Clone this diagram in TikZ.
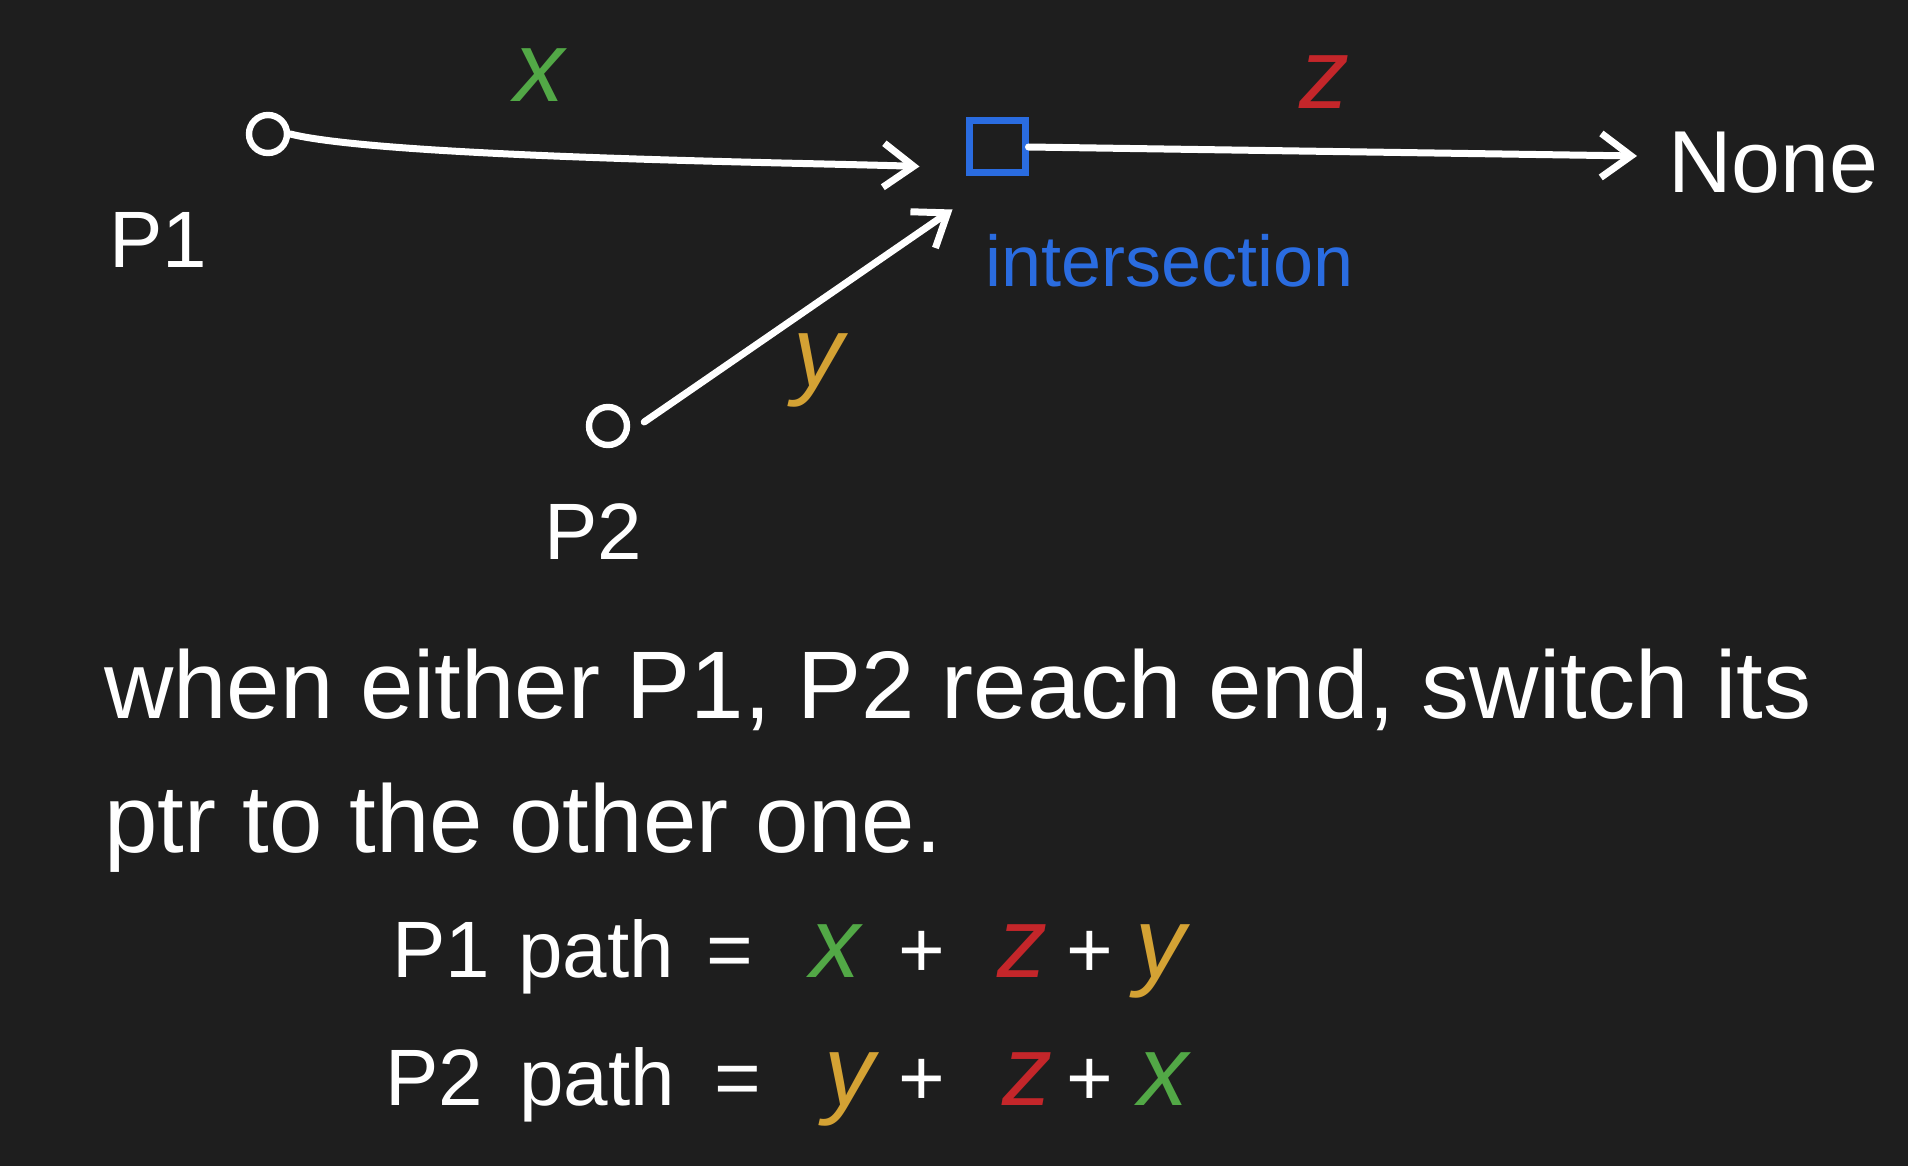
\documentclass[tikz,border=0pt]{standalone}
\usepackage{fontspec}
\setmainfont{Liberation Sans}
\usetikzlibrary{positioning, arrows.meta, calc}
\definecolor{board}{HTML}{1E1E1E}
\definecolor{chalkgreen}{HTML}{52A846}
\definecolor{chalkred}{HTML}{C4262A}
\definecolor{chalkyellow}{HTML}{D4A234}
\definecolor{chalkblue}{HTML}{2A6CE0}

\begin{document}
\begin{tikzpicture}[x=0.5pt, y=-0.5pt,
	ink/.style={draw=white, line width=3.5pt, line cap=round, line join=round},
	ptrarrow/.style={ink, -{Straight Barb[length=15pt, width=22pt]}},
	ptr/.style={draw=white, line width=3.2pt, circle, minimum size=19pt, inner sep=0pt},
	hand/.style={text=white, font=\fontsize{48}{56}\selectfont},
	eqn/.style={text=white, font=\fontsize{40}{48}\selectfont},
	tag/.style={font=\fontsize{50}{56}\selectfont\itshape}]
	\fill[board] (0,0) rectangle (1908,1166);
	\useasboundingbox (0,0) rectangle (1908,1166);
	% ---- the two lists meeting ----
	\node[ptr] (p1) at (268,134) {};
	\node[eqn] (p1lbl) at (158,240) {P1};
	\node[ptr] (p2) at (608,426) {};
	\node[eqn] (p2lbl) at (593,532) {P2};
	\node[draw=chalkblue, line width=3.5pt, minimum width=28pt, minimum height=26pt, inner sep=0pt] (isect) at (997,147) {};
	\node[text=chalkblue, font=\fontsize{36}{42}\selectfont, anchor=west] (isectlbl) at (978,261) {intersection};
	\node[hand, font=\fontsize{44}{50}\selectfont, anchor=west] (none) at (1661,163) {None};
	\coordinate (xend) at ($(isect.south west)+(-46,-10)$);
	\coordinate (yend) at ($(isect.south west)+(-13,33)$);
	\coordinate (zend) at ($(none.west)+(-24,-7)$);
	\draw[ptrarrow] (p1.east) to[out=-14, in=178, looseness=0.4] (xend);
	\draw[ptrarrow] ($(p2.east)+(14,-4)$) -- (yend);
	\draw[ptrarrow] (isect.east) -- (zend);
	\node[tag, text=chalkgreen] (xlbl) at (539,75) {x};
	\node[tag, text=chalkred] (zlbl) at (1324,82) {z};
	\node[tag, text=chalkyellow] (ylbl) at (818,370) {y};
	% ---- the note ----
	\node[hand, anchor=base west] (note1) at (97,718) {when either P1, P2 reach end, switch its};
	\node[hand, anchor=base west] (note2) at (97,852) {ptr to the other one.};
	\foreach \n/\px/\t/\c in {a/441/P1/white, b/596/path/white, c/730/=/white, e/922/+/white, g/1090/+/white}{
		\node[eqn, anchor=base] (pa\n) at (\px,977) {\t};
	}
	\foreach \n/\px/\t/\c in {d/835/x/chalkgreen, f/1022/z/chalkred, h/1160/y/chalkyellow}{
		\node[tag, anchor=base, text=\c] (pa\n) at (\px,977) {\t};
	}
	\foreach \n/\px/\t/\c in {a/434/P2/white, b/597/path/white, c/738/=/white, e/922/+/white, g/1090/+/white}{
		\node[eqn, anchor=base] (pb\n) at (\px,1105) {\t};
	}
	\foreach \n/\px/\t/\c in {d/849/y/chalkyellow, f/1027/z/chalkred, h/1163/x/chalkgreen}{
		\node[tag, anchor=base, text=\c] (pb\n) at (\px,1105) {\t};
	}
\end{tikzpicture}
\end{document}
